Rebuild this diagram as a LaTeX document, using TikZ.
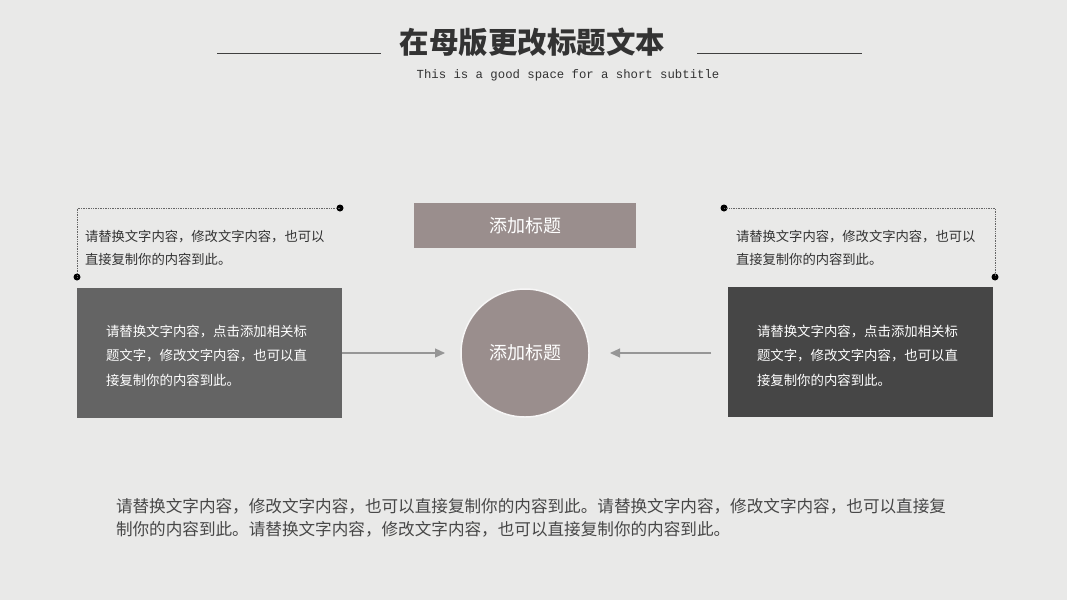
\documentclass[tikz,border=0pt]{standalone}
\usepackage{fontspec}
\usetikzlibrary{arrows.meta}
\newfontfamily\cjk{Noto Sans CJK SC}
\newfontfamily\subfont{Liberation Mono}
\definecolor{bgc}{RGB}{233,233,232}
\definecolor{mauve}{RGB}{154,142,141}
\definecolor{boxa}{RGB}{100,100,100}
\definecolor{boxb}{RGB}{70,70,70}
\definecolor{txt}{RGB}{51,51,51}
\definecolor{arr}{RGB}{150,150,150}
\tikzset{
  every node/.style={inner sep=0pt, outer sep=0pt},
  darkbox/.style={minimum width=265pt, minimum height=130pt, anchor=north west},
  wline/.style={anchor=base west, text=white, font=\cjk\fontsize{13.4}{16}\selectfont},
  gline/.style={anchor=base west, text=txt, font=\cjk\fontsize{13.3}{16}\selectfont},
  pline/.style={anchor=base west, text=txt!90!white, font=\cjk\fontsize{16.6}{20}\selectfont},
  bracket/.style={draw=black!60, densely dotted, line width=0.7pt},
  blob/.style={circle, fill=black, minimum size=7pt},
  flow/.style={draw=arr, line width=1.2pt, -{Triangle[length=10pt,width=9pt]}},
  rule/.style={draw=black!75, line width=0.8pt}
}
\begin{document}
\begin{tikzpicture}[x=1pt,y=-1pt]
\fill[bgc] (0,0) rectangle (1067,600);
\useasboundingbox (0,0) rectangle (1067,600);

% title
\node[anchor=base, text=txt, font=\cjk\bfseries\fontsize{29.5}{33}\selectfont] (title) at (532.5,53) {在母版更改标题文本};
\coordinate (tl1) at (217,53); \coordinate (tl2) at (381,53);
\coordinate (tr1) at (697,53); \coordinate (tr2) at (862,53);
\draw[rule] (tl1) -- (tl2);
\draw[rule] (tr1) -- (tr2);
\node[anchor=base, text=txt, font=\subfont\fontsize{12.3}{14}\selectfont] (sub) at (568,78) {This is a good space for a short subtitle};

% center title rect
\node[fill=mauve, minimum width=222pt, minimum height=45pt, text=white, font=\cjk\fontsize{18}{20}\selectfont] (ttl) at (525,225.5) {添加标题};

% circle
\node[circle, fill=mauve, draw=white!92!mauve, line width=1.5pt, minimum size=128pt, text=white, font=\cjk\fontsize{18}{20}\selectfont] (ctr) at (525,353) {添加标题};

% dark boxes
\node[darkbox, fill=boxa] (lbox) at (77,288) {};
\node[darkbox, fill=boxb] (rbox) at (728,287) {};

\node[wline] (l1) at (106,336) {请替换文字内容，点击添加相关标};
\node[wline] (l2) at (106,360) {题文字，修改文字内容，也可以直};
\node[wline] (l3) at (106,385) {接复制你的内容到此。};

\node[wline] (r1) at (757,336) {请替换文字内容，点击添加相关标};
\node[wline] (r2) at (757,360) {题文字，修改文字内容，也可以直};
\node[wline] (r3) at (757,385) {接复制你的内容到此。};

% arrows
\draw[flow, shorten >=16pt] (lbox.east |- ctr.west) -- (ctr.west);
\draw[flow, shorten <=17pt, shorten >=21pt] (rbox.west |- ctr.east) -- (ctr.east);

% brackets
\coordinate (lbA) at (77,208);
\node[blob] (ldot1) at (340,208) {};
\node[blob] (ldot2) at (77,277) {};
\draw[bracket] (ldot1.center) -- (lbA) -- (ldot2.center);

\coordinate (rbA) at (995,208);
\node[blob] (rdot1) at (724,208) {};
\node[blob] (rdot2) at (995,277) {};
\draw[bracket] (rdot1.center) -- (rbA) -- (rdot2.center);

\node[gline] (tl) at (85,241) {请替换文字内容，修改文字内容，也可以};
\node[gline] (tl2n) at (85,264) {直接复制你的内容到此。};
\node[gline] (tr) at (736,241) {请替换文字内容，修改文字内容，也可以};
\node[gline] (tr2n) at (736,264) {直接复制你的内容到此。};

% bottom paragraph
\node[pline] (p1) at (116,512) {请替换文字内容，修改文字内容，也可以直接复制你的内容到此。请替换文字内容，修改文字内容，也可以直接复};
\node[pline] (p2) at (116,535) {制你的内容到此。请替换文字内容，修改文字内容，也可以直接复制你的内容到此。};
\end{tikzpicture}
\end{document}
